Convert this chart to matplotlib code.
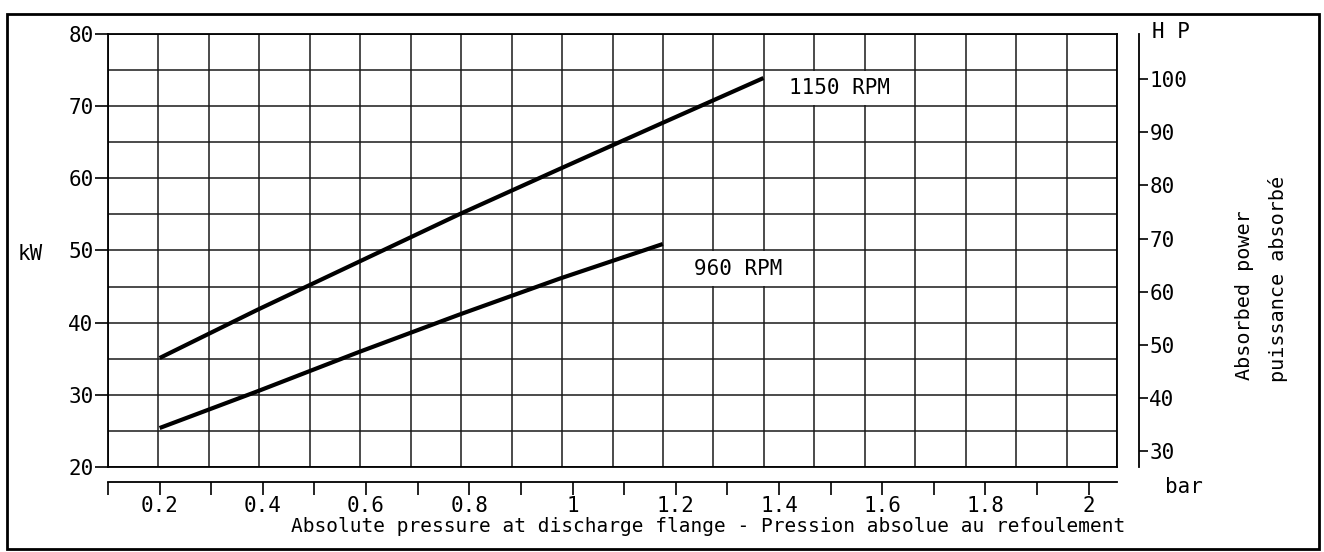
import numpy as np
import matplotlib
matplotlib.use('Agg')
import matplotlib.pyplot as plt
from matplotlib.patches import Rectangle

# curves (absolute pressure in bar, absorbed power in kW)
p_1150  = [0.2, 0.39, 0.585, 0.78, 0.975, 1.175, 1.37]
kw_1150 = [35.1, 41.8, 48.4, 55.0, 61.3, 67.7, 73.9]
p_960   = [0.2, 0.39, 0.585, 0.78, 0.975, 1.175]
kw_960  = [25.4, 30.5, 35.9, 41.1, 46.1, 50.9]

x_lim    = (0.1, 2.055)
x_ticks  = [0.1, 0.2, 0.3, 0.4, 0.5, 0.6, 0.7, 0.8, 0.9, 1.0, 1.1, 1.2, 1.3, 1.4, 1.5, 1.6, 1.7, 1.8, 1.9, 2.0]
x_labels = ['', '0.2', '', '0.4', '', '0.6', '', '0.8', '', '1', '', '1.2', '', '1.4', '', '1.6', '', '1.8', '', '2']
kw_lim   = (20, 80)
kw_ticks = [20, 30, 40, 50, 60, 70, 80]
kw_minor = [25, 35, 45, 55, 65, 75]
hp_lim   = (27.0, 108.5)
hp_ticks = [30, 40, 50, 60, 70, 80, 90, 100]

W, H = 1324, 552
FS = 15      # ticks and short labels
FS_L = 14    # long labels
plt.rcParams['font.family'] = ['DejaVu Sans Mono']
plt.rcParams['font.size'] = FS

def box(l, t, r, b):
  # pixel box (left, top, right, bottom) -> figure fraction
  return [l/W, 1-b/H, (r-l)/W, (b-t)/H]

fig = plt.figure(figsize=(W/100, H/100), dpi=100)

# main grid box, 20 x 12 cells
ax = fig.add_axes(box(108, 34, 1117, 467))
ax.set_xlim(x_lim)
ax.set_ylim(kw_lim)
grid_x = np.linspace(x_lim[0], x_lim[1], 21)
dx = grid_x[1] - grid_x[0]
ax.set_xticks(grid_x)
ax.set_xticklabels([])
ax.tick_params(axis='x', length=0)
ax.set_yticks(kw_ticks)
ax.set_yticks(kw_minor, minor=True)
ax.tick_params(axis='y', which='major', length=9.5, width=1.2, labelsize=FS, pad=1)
ax.tick_params(axis='y', which='minor', length=0)
ax.grid(True, which='both', color='#1a1a1a', lw=1.1)
for s in ax.spines.values(): s.set_linewidth(1.3)

ax.plot(p_1150, kw_1150, color='black', lw=3.0, solid_capstyle='butt', zorder=3)
ax.plot(p_960, kw_960, color='black', lw=3.0, solid_capstyle='butt', zorder=3)

# speed labels sit in a blanked strip of 3 cells next to the curve end
for txt, px, row in [('1150 RPM', p_1150[-1], (70, 75)), ('960 RPM', p_960[-1], (45, 50))]:
  ax.add_patch(Rectangle((px + 0.003, row[0] + 0.12), 3*dx - 0.006, row[1] - row[0] - 0.24,
                         fc='white', ec='none', zorder=2))
  ax.text(px + 1.5*dx, (row[0] + row[1])/2, txt, ha='center', va='center', fontsize=FS, zorder=4)

# pressure scale below the grid
axb = fig.add_axes(box(108, 481, 1117, 482))
axb.set_xlim(x_lim)
axb.set_yticks([])
axb.set_xticks(x_ticks)
axb.set_xticklabels(x_labels)
axb.tick_params(axis='x', direction='out', length=9.5, width=1.2, labelsize=FS, pad=0.5)
axb.patch.set_alpha(0)
for k in ['top', 'left', 'right']: axb.spines[k].set_visible(False)
axb.spines['bottom'].set_linewidth(1.3)

# HP scale on the right
axh = fig.add_axes(box(1138, 34, 1139, 467))
axh.set_ylim(hp_lim)
axh.set_xticks([])
axh.yaxis.tick_right()
axh.set_yticks(hp_ticks)
axh.tick_params(axis='y', direction='out', length=6.5, width=1.2, labelsize=FS, pad=1)
axh.patch.set_alpha(0)
for k in ['top', 'left', 'bottom']: axh.spines[k].set_visible(False)
axh.spines['right'].set_linewidth(1.3)

# texts
fig.text(30/W, 1-254/H, 'kW', ha='center', va='center', fontsize=FS)
fig.text(1152/W, 1-32/H, 'H P', ha='left', va='center', fontsize=FS)
fig.text(1184/W, 1-487/H, 'bar', ha='center', va='center', fontsize=FS)
fig.text(708/W, 1-527/H, 'Absolute pressure at discharge flange - Pression absolue au refoulement',
         ha='center', va='center', fontsize=FS_L)
fig.text(1245/W, 1-380/H, 'Absorbed power', rotation=90, ha='center', va='bottom', fontsize=14.5)
fig.text(1278/W, 1-382/H, 'puissance absorbé', rotation=90, ha='center', va='bottom', fontsize=14.5)

# outer frame
fig.patches.append(Rectangle((7/W, 1-549/H), 1312/W, 535/H, transform=fig.transFigure,
                             fill=False, lw=2, ec='black'))

plt.savefig('out.png', dpi=100)
